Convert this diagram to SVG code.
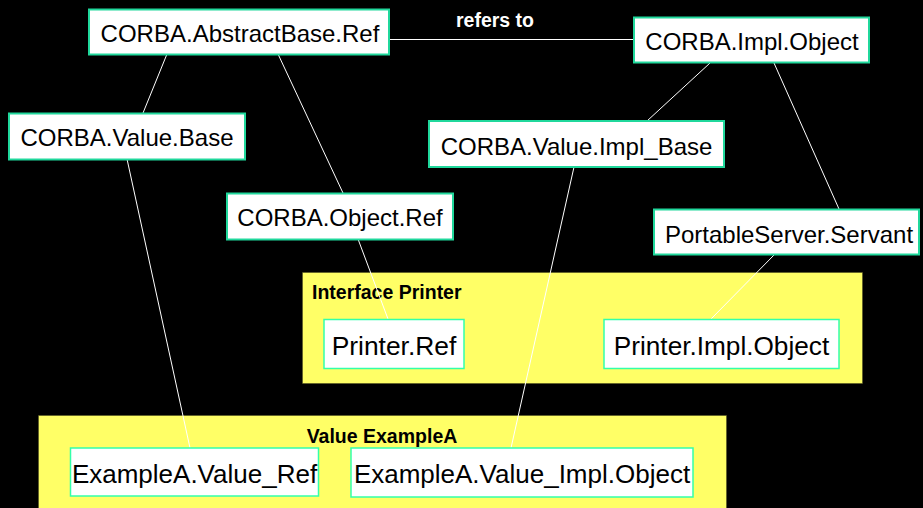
<svg xmlns="http://www.w3.org/2000/svg" width="923" height="508" viewBox="0 0 923 508">
<style>
.pkg{fill:#ffff66;stroke:#4a4a20;stroke-width:1;stroke-dasharray:1 1}
.nodeA{fill:#ffffff;stroke:#20d89c;stroke-width:2}
.nodeB{fill:#ffffff;stroke:#33ffaa;stroke-width:1.5}
.t{font-family:"Liberation Sans",Arial,sans-serif;fill:#000;text-anchor:middle}
.t24{font-size:24px}
.t26{font-size:26px}
.bold{font-family:"Liberation Sans",Arial,sans-serif;font-weight:bold;font-size:19.5px}
.edge{stroke:#ffffff;stroke-width:1;fill:none}
</style>
<rect x="0" y="0" width="923" height="508" fill="#000000"/>
<g id="pkg-printer">
<rect class="pkg" x="302.5" y="272.5" width="560" height="111"/>
<text class="bold" x="312" y="299" fill="#000">Interface Printer</text>
</g>
<g id="pkg-examplea">
<rect class="pkg" x="38.5" y="415.5" width="688" height="100"/>
<text class="bold" x="382" y="443" fill="#000" text-anchor="middle">Value ExampleA</text>
</g>
<g id="connectors">
<line class="edge" x1="389" y1="39.5" x2="634" y2="39.5"/>
<text class="bold" x="495" y="27" fill="#ffffff" text-anchor="middle">refers to</text>
<line class="edge" x1="167" y1="54" x2="143" y2="113"/>
<line class="edge" x1="127" y1="159" x2="190" y2="448"/>
<line class="edge" x1="278" y1="54" x2="343" y2="193"/>
<line class="edge" x1="358" y1="239" x2="388" y2="319"/>
<line class="edge" x1="710" y1="63" x2="647" y2="121"/>
<line class="edge" x1="574" y1="167" x2="511" y2="448"/>
<line class="edge" x1="774" y1="63" x2="839" y2="209"/>
<line class="edge" x1="775" y1="254" x2="711" y2="319"/>
</g>
<g id="n-abstractbase">
<rect class="nodeA" x="89" y="9.5" width="300" height="45"/>
<text class="t t24" x="240" y="42">CORBA.AbstractBase.Ref</text>
</g>
<g id="n-implobject">
<rect class="nodeA" x="634" y="17.5" width="235" height="45"/>
<text class="t t24" x="752" y="50">CORBA.Impl.Object</text>
</g>
<g id="n-valuebase">
<rect class="nodeA" x="9" y="113.5" width="236" height="46"/>
<text class="t t24" x="127" y="146">CORBA.Value.Base</text>
</g>
<g id="n-valueimplbase">
<rect class="nodeA" x="429" y="121" width="295" height="46"/>
<text class="t t24" x="576.5" y="155">CORBA.Value.Impl_Base</text>
</g>
<g id="n-objectref">
<rect class="nodeA" x="227" y="193.5" width="226" height="46"/>
<text class="t t24" x="340" y="226">CORBA.Object.Ref</text>
</g>
<g id="n-servant">
<rect class="nodeA" x="654" y="209.5" width="265" height="45"/>
<text class="t t24" x="789" y="243">PortableServer.Servant</text>
</g>
<g id="n-printerref">
<rect class="nodeB" x="324" y="319.5" width="140" height="49"/>
<text class="t" x="394" y="355" style="font-size:26.4px">Printer.Ref</text>
</g>
<g id="n-printerimpl">
<rect class="nodeB" x="604" y="319.5" width="235" height="49"/>
<text class="t" x="721.5" y="355" style="font-size:26.2px">Printer.Impl.Object</text>
</g>
<g id="n-valueref">
<rect class="nodeB" x="70.5" y="448" width="248" height="48"/>
<text class="t t26" x="194.5" y="483">ExampleA.Value_Ref</text>
</g>
<g id="n-valueimplobject">
<rect class="nodeB" x="351" y="448" width="342" height="49"/>
<text class="t t26" x="522" y="483">ExampleA.Value_Impl.Object</text>
</g>
</svg>
